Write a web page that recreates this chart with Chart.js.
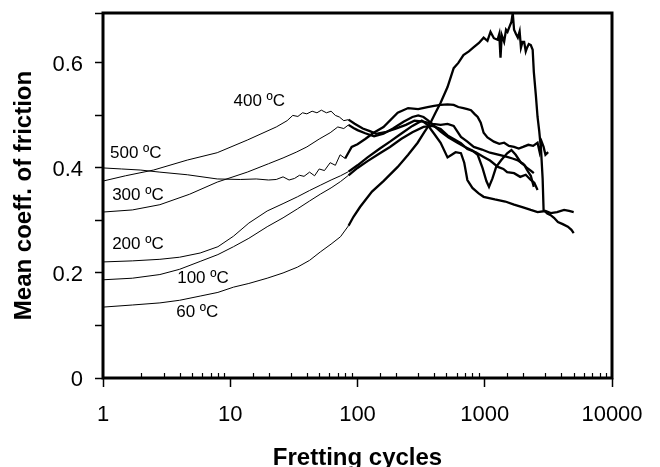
<!DOCTYPE html>
<html>
<head>
<meta charset="utf-8">
<script src="https://cdn.jsdelivr.net/npm/chart.js@4.4.0/dist/chart.umd.min.js"></script>
<style>
  html, body { margin: 0; padding: 0; background: #fff; }
  #c { display: block; }
</style>
</head>
<body>
<canvas id="c" width="660" height="467"></canvas>
<script>
// ---------------- DATA ----------------
const xTitle = 'Fretting cycles';
const yTitle = 'Mean coeff. of friction';
const xTickValues = [1, 10, 100, 1000, 10000];
const yTickLabels = ['0', '0.2', '0.4', '0.6'];

const seriesNames = ['60 ºC', '100 ºC', '200 ºC', '300 ºC', '400 ºC', '500 ºC'];

const cycles60 = [1,1.7,2.8,4,5.8,8,10.6,14,19.5,26,33.7,42,51,62,73.5,85,93,105,130,160,207,250,297,335,375,410,450,510,570,620,680,750,820,900,980,1050,1110,1180,1260,1300,1330,1360,1420,1470,1510,1560,1620,1660,1700,1760,1820,1880,1925,1980,2040,2100,2150,2220,2300,2380,2430,2520,2600,2680,2770,2850,2900,3100,3300,3500,3760,4100,4500,4800,5000];
const mu60 = [0.135,0.139,0.143,0.148,0.156,0.163,0.173,0.18,0.19,0.2,0.211,0.224,0.24,0.255,0.269,0.29,0.307,0.326,0.355,0.375,0.402,0.425,0.448,0.468,0.486,0.505,0.524,0.554,0.59,0.60,0.615,0.622,0.63,0.638,0.648,0.642,0.659,0.647,0.644,0.655,0.61,0.653,0.64,0.663,0.659,0.668,0.678,0.695,0.663,0.655,0.648,0.66,0.629,0.64,0.64,0.622,0.629,0.636,0.634,0.625,0.583,0.539,0.497,0.47,0.434,0.38,0.32,0.313,0.31,0.305,0.297,0.293,0.288,0.282,0.276];

const cycles100 = [1,1.7,2.8,4,5.8,8,10.6,14,19.5,26,33.7,42,51,62,73.5,85,100,120,150,180,220,270,330,390,450,510,570,650,730,850,980,1100,1270,1400,1500,1700,1900,2100,2300,2450,2600];
const mu100 = [0.187,0.19,0.197,0.207,0.222,0.235,0.25,0.266,0.288,0.305,0.322,0.337,0.35,0.362,0.374,0.386,0.4,0.413,0.428,0.44,0.455,0.468,0.478,0.48,0.474,0.462,0.455,0.447,0.436,0.43,0.421,0.414,0.402,0.398,0.392,0.39,0.383,0.387,0.377,0.372,0.358];

const cycles200 = [1,1.7,2.8,4,5.8,8,10.6,14,19.5,26,33.7,42,51,62,73.5,85,100,120,150,180,220,270,320,355,400,450,510,550,590,650,690,730,800,890,980,1200,1450,1700,2000,2300,2600,3000,3300,3700,4200,4600,5000];
const mu200 = [0.221,0.223,0.226,0.23,0.238,0.25,0.27,0.295,0.318,0.332,0.345,0.357,0.367,0.377,0.385,0.393,0.405,0.42,0.437,0.45,0.465,0.48,0.49,0.482,0.465,0.448,0.42,0.425,0.43,0.428,0.41,0.377,0.362,0.352,0.345,0.34,0.336,0.33,0.325,0.32,0.316,0.318,0.314,0.316,0.32,0.318,0.316];

const cycles300 = [1,1.7,2.8,4.8,7.9,13.6,20,26,33,40,50,61,70,78,85,93,100,115,135,160,190,230,270,300,330,360,400,450,520,610,700,800,880,960,1030,1080,1150,1230,1350,1500,1620,1750,1925,2050,2150,2300,2430];
const mu300 = [0.316,0.32,0.33,0.35,0.373,0.392,0.408,0.419,0.43,0.44,0.455,0.467,0.478,0.475,0.482,0.476,0.472,0.466,0.46,0.465,0.475,0.488,0.497,0.5,0.497,0.49,0.48,0.469,0.458,0.448,0.44,0.433,0.425,0.4,0.375,0.364,0.38,0.402,0.415,0.428,0.434,0.425,0.41,0.405,0.396,0.385,0.364];

const cycles400 = [1,1.5,2.5,4.6,7.9,13.6,23,28,31,34,37,40,44,48,52,57,62,67,72,78,85,95,110,125,140,165,200,240,280,330,390,450,510,570,650,730,820,950,1100,1300,1500,1650,1800,2000,2150,2300,2430];
const mu400 = [0.375,0.385,0.396,0.415,0.429,0.453,0.478,0.49,0.5,0.498,0.505,0.503,0.508,0.505,0.51,0.505,0.508,0.5,0.497,0.49,0.492,0.484,0.475,0.47,0.465,0.468,0.475,0.482,0.49,0.488,0.484,0.482,0.484,0.48,0.459,0.45,0.44,0.435,0.429,0.425,0.421,0.418,0.415,0.408,0.4,0.395,0.39];

const cycles500 = [1,1.4,1.96,2.8,4.6,7.9,12,16,20,23,26,29,32,35,38,42,46,50,55,61,67,73,80,90,100,115,134,160,207,250,300,355,400,450,510,570,620,680,730,780,830,880,930,980,1050,1180,1300,1420,1550,1700,1850,2000,2200,2400,2600,2700,2800,2900,3000,3150];
const mu500 = [0.40,0.398,0.396,0.392,0.387,0.379,0.378,0.379,0.377,0.378,0.383,0.377,0.38,0.386,0.384,0.392,0.385,0.398,0.395,0.41,0.405,0.425,0.418,0.44,0.445,0.455,0.467,0.478,0.505,0.514,0.512,0.516,0.518,0.52,0.521,0.52,0.516,0.514,0.512,0.51,0.503,0.497,0.486,0.467,0.458,0.45,0.446,0.448,0.442,0.44,0.437,0.44,0.444,0.442,0.448,0.43,0.45,0.44,0.425,0.43];

// in-plot curve labels (anchored in data coordinates)
const labelTexts  = ['400 ºC', '500 ºC', '300 ºC', '200 ºC', '100 ºC', '60 ºC'];
const labelCycles = [10.6, 1.135, 1.18, 1.18, 3.83, 3.76];
const labelMu     = [0.526, 0.427, 0.347, 0.255, 0.189, 0.126];

// ---------------- CHART ----------------
const FONT = '"Liberation Sans", Arial, Helvetica, sans-serif';

function pts(xs, ys) { return xs.map((x, i) => ({ x: x, y: ys[i] })); }
const allCycles = [cycles60, cycles100, cycles200, cycles300, cycles400, cycles500];
const allMu = [mu60, mu100, mu200, mu300, mu400, mu500];

const datasets = seriesNames.map((name, i) => ({
  label: name,
  data: pts(allCycles[i], allMu[i]),
  showLine: true,
  pointRadius: 0,
  borderColor: '#000',
  borderWidth: 1,
  tension: 0,
  fill: false,
  segment: {
    borderWidth: ctx => (ctx.p0.parsed && ctx.p0.parsed.x >= 80 ? 2.3 : 1)
  }
}));

function isDecade(v) {
  const l = Math.log10(v);
  return Math.abs(l - Math.round(l)) < 1e-9;
}

const framePlugin = {
  id: 'frameAndLabels',
  afterDatasetsDraw(chart) {
    const ctx = chart.ctx;
    const a = chart.chartArea;
    const xs = chart.scales.x, ys = chart.scales.y;
    ctx.save();
    // minor x ticks (inside)
    ctx.strokeStyle = '#000';
    ctx.lineWidth = 1.2;
    xs.ticks.forEach(t => {
      if (!isDecade(t.value)) {
        const px = Math.round(xs.getPixelForValue(t.value)) + 0.5;
        ctx.beginPath();
        ctx.moveTo(px, a.bottom);
        ctx.lineTo(px, a.bottom - 5);
        ctx.stroke();
      }
    });
    // frame
    ctx.lineWidth = 3;
    ctx.strokeRect(a.left, a.top, a.right - a.left, a.bottom - a.top);
    // curve labels
    ctx.fillStyle = '#000';
    ctx.font = '17px ' + FONT;
    ctx.textAlign = 'left';
    ctx.textBaseline = 'middle';
    labelTexts.forEach((t, i) => {
      ctx.fillText(t, xs.getPixelForValue(labelCycles[i]), ys.getPixelForValue(labelMu[i]));
    });
    ctx.restore();
  }
};

new Chart(document.getElementById('c'), {
  type: 'scatter',
  data: { datasets },
  plugins: [framePlugin],
  options: {
    responsive: false,
    animation: false,
    devicePixelRatio: 1,
    layout: { padding: { top: 13, right: 48, left: 0, bottom: 0 } },
    plugins: { legend: { display: false }, tooltip: { enabled: false } },
    scales: {
      x: {
        type: 'logarithmic',
        position: 'bottom',
        min: 1,
        max: 10000,
        afterFit: s => { s.height = 89; s.paddingLeft = 0; s.paddingRight = 0; },
        ticks: {
          autoSkip: false,
          maxRotation: 0,
          minRotation: 0,
          padding: 15,
          color: '#000',
          font: { size: 22, family: FONT },
          callback: v => (isDecade(v) && xTickValues.includes(Math.round(v)) ? String(Math.round(v)) : '')
        },
        grid: {
          drawOnChartArea: false,
          drawTicks: true,
          tickLength: 9,
          tickWidth: 1.5,
          tickColor: ctx => (ctx.tick && isDecade(ctx.tick.value) ? '#000' : 'rgba(0,0,0,0)')
        },
        border: { display: false },
        title: {
          display: true,
          text: xTitle,
          color: '#000',
          padding: { top: 0, bottom: -3 },
          font: { size: 24, weight: 'bold', family: FONT, lineHeight: 1 }
        }
      },
      y: {
        min: 0,
        max: 0.695,
        afterFit: s => { s.width = 103; s.paddingTop = 0; s.paddingBottom = 0; },
        ticks: {
          stepSize: 0.1,
          padding: 12,
          labelOffset: 2,
          color: '#000',
          font: { size: 22, family: FONT },
          callback: v => {
            const k = Math.round(v * 10);
            if (k % 2 !== 0) return '';
            const lbl = String(k / 10);
            return yTickLabels.includes(lbl) ? lbl : '';
          }
        },
        grid: {
          drawOnChartArea: false,
          drawTicks: true,
          tickLength: 8,
          tickWidth: 1.5,
          tickColor: '#000'
        },
        border: { display: false },
        title: {
          display: true,
          text: yTitle,
          color: '#000',
          padding: { top: 12.5, bottom: 0 },
          font: { size: 24, weight: 'bold', family: FONT, lineHeight: 1 }
        }
      }
    }
  }
});
</script>
</body>
</html>
